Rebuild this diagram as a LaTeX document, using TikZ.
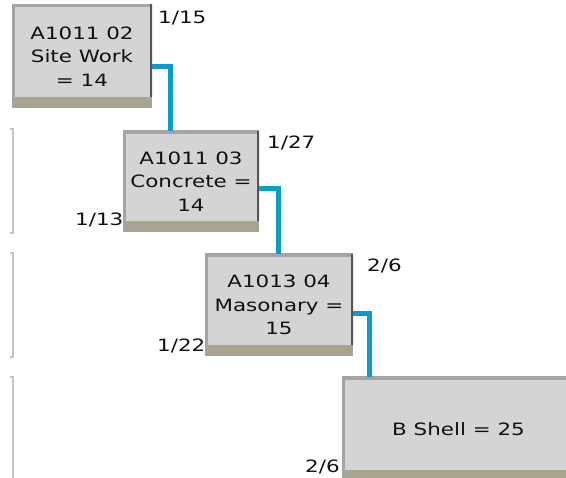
\documentclass[tikz,border=0pt]{standalone}
\usepackage{fontspec}
\setmainfont{DejaVu Sans}[FakeStretch=1.26]
\usepackage{xcolor}
\definecolor{taskfill}{HTML}{D4D4D4}
\definecolor{taskband}{HTML}{A8A490}
\definecolor{taskedge}{HTML}{A4A4A4}
\definecolor{taskshade}{HTML}{555555}
\definecolor{tasktext}{HTML}{111111}
\definecolor{linkcyan}{HTML}{0A9CCD}
\definecolor{rowgray}{HTML}{C4C4BC}
\usetikzlibrary{positioning}

\begin{document}
\begin{tikzpicture}[
  x=1pt, y=-1pt,
  font=\fontsize{17}{23.5}\selectfont,
  task/.style={fill=taskfill, inner sep=0pt, align=center, text=tasktext,
    path picture={
      \fill[taskband] (path picture bounding box.south west) rectangle ([yshift=11pt]path picture bounding box.south east);
      \draw[taskedge, line width=6pt] (path picture bounding box.south west) -- (path picture bounding box.north west) -- (path picture bounding box.north east);
      \draw[taskshade, line width=4pt] (path picture bounding box.north east) -- ([yshift=11pt]path picture bounding box.south east);
    }},
  link/.style={draw=linkcyan, line width=5pt},
  stamp/.style={anchor=west, inner sep=0pt, text=tasktext},
  rowmark/.style={draw=rowgray, line width=2pt},
]
  \path[use as bounding box] (0,0) rectangle (566,478);
  \clip (0,0) rectangle (566,478);

  % row markers on the left
  \draw[rowmark] (10,129) -- (13,129) -- (13,233) -- (10,233);
  \draw[rowmark] (10,253) -- (13,253) -- (13,357) -- (10,357);
  \draw[rowmark] (10,377) -- (13,377) -- (13,480);

  % tasks
  \node[task, minimum width=140, minimum height=104] (a0102) at (82,56.5) {A1011 02\\Site Work\\= 14};
  \node[task, minimum width=136, minimum height=101] (a0103) at (191,181.5) {A1011 03\\Concrete =\\14};
  \node[task, minimum width=148, minimum height=102] (a0104) at (279,305) {A1013 04\\Masonary =\\15};
  \node[task, minimum width=233, minimum height=104] (bshell) at (458.5,429) {B Shell = 25};

  % dates
  \node[stamp] (a0102end) at (158,18) {1/15};
  \node[stamp] (a0103end) at (267,143) {1/27};
  \node[stamp] (a0103start) at (75,220) {1/13};
  \node[stamp] (a0104end) at (367,266) {2/6};
  \node[stamp] (a0104start) at (157,346) {1/22};
  \node[stamp] (bshellstart) at (305,467) {2/6};

  % links
  \draw[link] ([yshift=-10.5pt]a0102.east) -| ([xshift=-21pt]a0103.north);
  \draw[link] ([yshift=-7.5pt]a0103.east) -| ([xshift=-1pt]a0104.north);
  \draw[link] ([yshift=-9pt]a0104.east) -| ([xshift=28pt]bshell.north west);
\end{tikzpicture}
\end{document}
